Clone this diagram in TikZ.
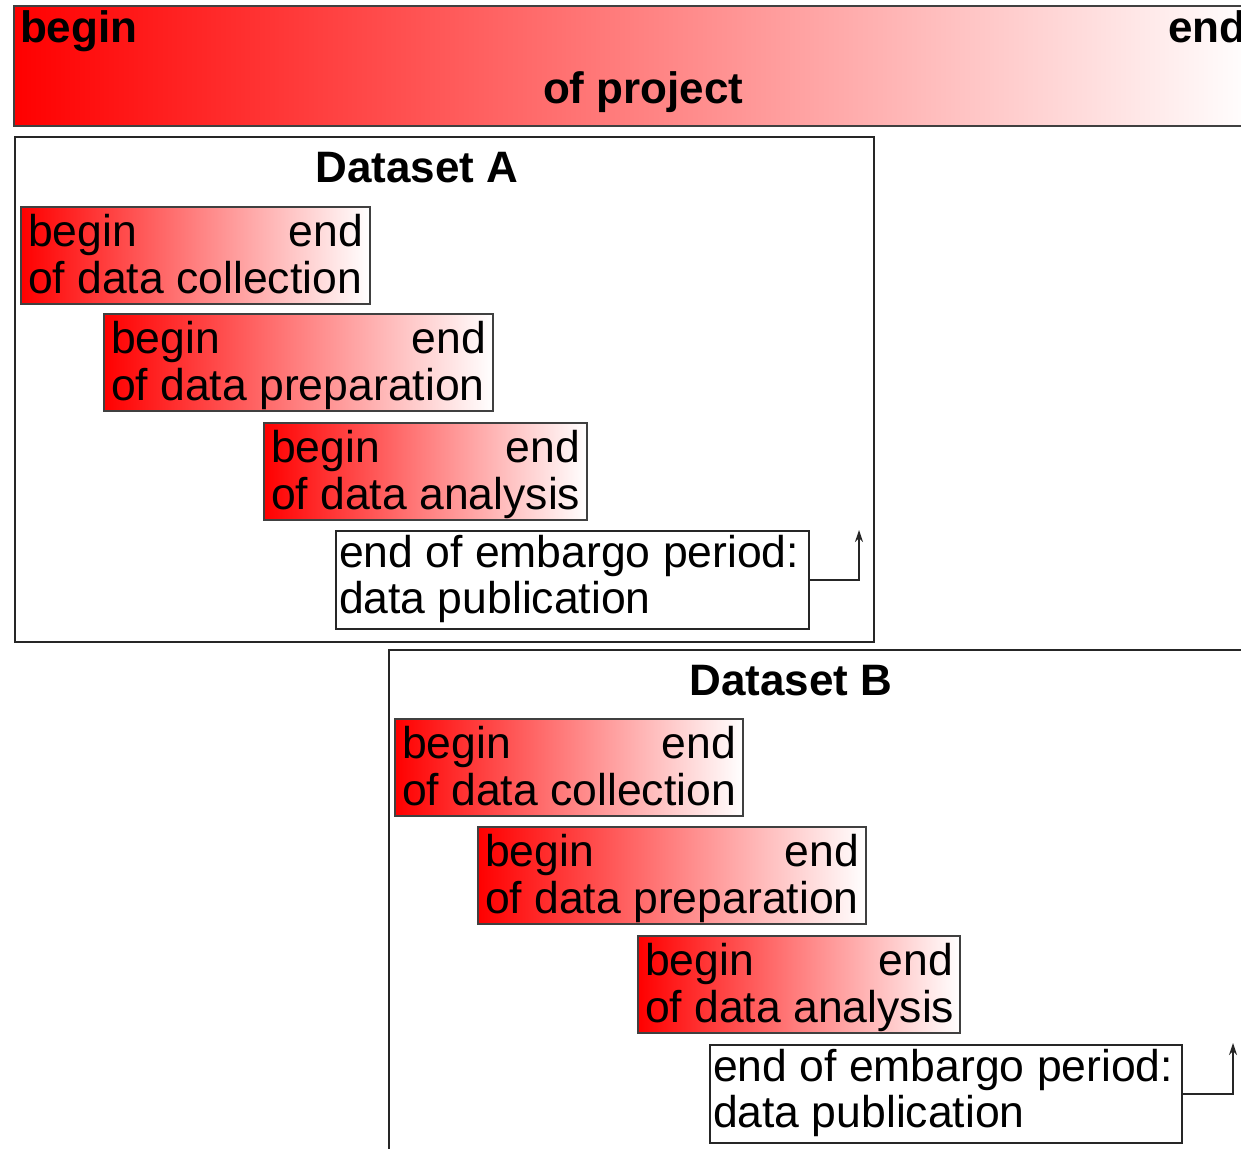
\documentclass[tikz,border=0pt]{standalone}
\usepackage{fontspec}
\setmainfont{Liberation Sans}
\usetikzlibrary{arrows.meta}
\tikzset{
  stagebox/.style={draw=black!75, line width=1.4pt, left color=red, right color=white,
    rectangle, inner sep=0pt, outer sep=0pt, minimum height=97pt, anchor=north west},
  pubbox/.style={draw=black!85, line width=1.4pt, fill=white,
    rectangle, inner sep=0pt, outer sep=0pt, minimum height=98pt, anchor=north west},
  framebox/.style={draw=black!85, line width=1.5pt, fill=none},
  lbl/.style={font=\fontsize{44.5}{46}\selectfont, inner sep=0pt, outer sep=0pt},
  blbl/.style={font=\fontsize{44}{46}\selectfont\bfseries, inner sep=0pt, outer sep=0pt},
  pubarrow/.style={draw=black!85, line width=1.4pt, -{Stealth[length=12pt,width=8pt]}},
}
\newcommand{\stagenode}[5]{%
  \node[stagebox, minimum width=#4] (#1) at (#2,#3) {};
  \node[lbl, anchor=base west] (#1-b) at ([xshift=7pt,yshift=-39pt]#1.north west) {begin};
  \node[lbl, anchor=base east] (#1-e) at ([xshift=-7pt,yshift=-39pt]#1.north east) {end};
  \node[lbl, anchor=base west] (#1-l) at ([xshift=7pt,yshift=-86pt]#1.north west) {of data #5};
}
\newcommand{\pubnode}[4]{%
  \node[pubbox, minimum width=#4] (#1) at (#2,#3) {};
  \node[lbl, anchor=base west] (#1-a) at ([xshift=3pt,yshift=-36pt]#1.north west) {end of embargo period:};
  \node[lbl, anchor=base west] (#1-c) at ([xshift=3pt,yshift=-82pt]#1.north west) {data publication};
}
\begin{document}
\begin{tikzpicture}[x=1pt,y=-1pt]
\clip (0,0) rectangle (1241,1148);
\fill[white] (0,0) rectangle (1241,1148);
% project bar
\node[stagebox, minimum width=1240pt, minimum height=120pt] (proj) at (14,6) {};
\node[blbl, anchor=base west] (proj-b) at (20,43) {begin};
\node[blbl, anchor=base west] (proj-e) at (1168,43) {end};
\node[blbl, anchor=base west] (proj-l) at (543,103) {of project};
% Dataset A
\node[framebox, rectangle, inner sep=0pt, minimum width=859pt, minimum height=505pt, anchor=north west] (dsA) at (14,136) {};
\node[blbl, anchor=base] (dsA-t) at (417,182) {Dataset A};
\stagenode{Acol}{21}{207}{349pt}{collection}
\stagenode{Aprep}{104}{314}{389pt}{preparation}
\stagenode{Aana}{264}{423}{323pt}{analysis}
\pubnode{Apub}{336}{531}{473pt}
\coordinate (Atip) at (859,530);
\draw[pubarrow] (Apub.east) -| (Atip);
% Dataset B
\node[framebox, rectangle, inner sep=0pt, minimum width=880pt, minimum height=520pt, anchor=north west] (dsB) at (388,649) {};
\node[blbl, anchor=base] (dsB-t) at (791,695) {Dataset B};
\stagenode{Bcol}{395}{719}{348pt}{collection}
\stagenode{Bprep}{478}{827}{388pt}{preparation}
\stagenode{Bana}{638}{936}{322pt}{analysis}
\pubnode{Bpub}{710}{1045}{472pt}
\coordinate (Btip) at (1233,1043);
\draw[pubarrow] (Bpub.east) -| (Btip);
\end{tikzpicture}
\end{document}
